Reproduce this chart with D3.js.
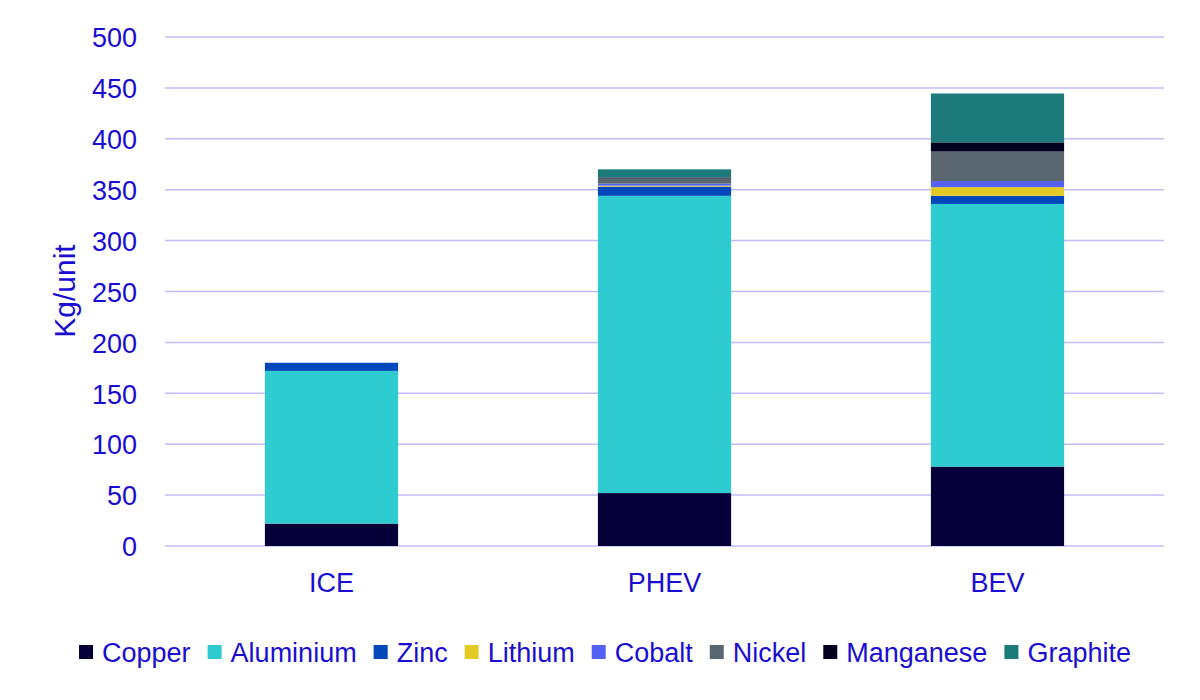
<!DOCTYPE html>
<html>
<head>
<meta charset="utf-8">
<script src="https://cdn.jsdelivr.net/npm/d3@7"></script>
<style>
  body { margin: 0; background: #fff; }
  text { font-family: "Liberation Sans", Arial, sans-serif; }
</style>
</head>
<body>
<svg id="chart" width="1200" height="700"></svg>
<script>
// data (kg per vehicle)
const categories = ["ICE", "PHEV", "BEV"];
const materials = ["Copper", "Aluminium", "Zinc", "Lithium", "Cobalt", "Nickel", "Manganese", "Graphite"];
const copper    = [22, 52, 78];
const aluminium = [150, 292, 258];
const zinc      = [8, 9, 8];
const lithium   = [0, 1, 8.5];
const cobalt    = [0, 2, 6];
const nickel    = [0, 5, 29];
const manganese = [0, 1, 9];
const graphite  = [0, 8, 48];
const yTicks = [0, 50, 100, 150, 200, 250, 300, 350, 400, 450, 500];

const colors = ["#050038", "#2ECBD1", "#0047BB", "#E2C924", "#5561F5", "#5B6770", "#02001E", "#1D7A7A"];
const textColor = "#1A0DD2";
const gridColor = "#C3BCFA";

const series = [copper, aluminium, zinc, lithium, cobalt, nickel, manganese, graphite];
const rows = categories.map((c, i) => {
    const r = { cat: c };
    materials.forEach((m, j) => r[m] = series[j][i]);
    return r;
});

const svg = d3.select("#chart");

const x = d3.scaleBand().domain(categories).range([165, 1164]).paddingInner(0.6).paddingOuter(0.3);
const y = d3.scaleLinear().domain([0, 500]).range([546, 37]);
const color = d3.scaleOrdinal().domain(materials).range(colors);

// gridlines
svg.append("g")
    .selectAll("line")
    .data(yTicks)
    .enter()
    .append("line")
    .attr("x1", 165)
    .attr("x2", 1164)
    .attr("y1", d => y(d))
    .attr("y2", d => y(d))
    .attr("stroke", gridColor)
    .attr("stroke-width", 1.5);

// y axis labels
const yAxis = svg.append("g")
    .attr("transform", "translate(137,0)")
    .call(d3.axisLeft(y).tickValues(yTicks).tickSize(0).tickPadding(0));
yAxis.select(".domain").remove();
yAxis.selectAll("text")
    .attr("fill", textColor)
    .attr("font-size", "27px")
    .attr("dy", "0.36em");

// stacked bars
const stack = d3.stack().keys(materials);
svg.append("g")
    .selectAll("g")
    .data(stack(rows))
    .enter()
    .append("g")
    .attr("fill", d => color(d.key))
    .selectAll("rect")
    .data(d => d)
    .enter()
    .append("rect")
    .attr("x", d => x(d.data.cat))
    .attr("width", x.bandwidth())
    .attr("y", d => y(d[1]))
    .attr("height", d => y(d[0]) - y(d[1]));

// x axis labels
const xAxis = svg.append("g")
    .attr("transform", "translate(0,573)")
    .call(d3.axisBottom(x).tickSize(0).tickPadding(0));
xAxis.select(".domain").remove();
xAxis.selectAll("text")
    .attr("fill", textColor)
    .attr("font-size", "27px")
    .attr("dy", "0.71em");

// y axis title
svg.append("text")
    .attr("transform", "translate(75,291) rotate(-90)")
    .attr("text-anchor", "middle")
    .attr("fill", textColor)
    .attr("font-size", "30px")
    .text("Kg/unit");

// legend
const legend = svg.append("g");
let lx = 0;
materials.forEach((m, i) => {
    const item = legend.append("g").attr("transform", "translate(" + lx + ",0)");
    item.append("rect")
        .attr("x", 0).attr("y", -7)
        .attr("width", 14).attr("height", 14)
        .attr("fill", color(m));
    const t = item.append("text")
        .attr("x", 23)
        .attr("dy", "0.36em")
        .attr("fill", textColor)
        .attr("font-size", "27px")
        .text(m);
    lx += 23 + t.node().getComputedTextLength() + 17;
});
lx -= 17;
legend.attr("transform", "translate(" + (605 - lx / 2) + ",652)");
</script>
</body>
</html>
